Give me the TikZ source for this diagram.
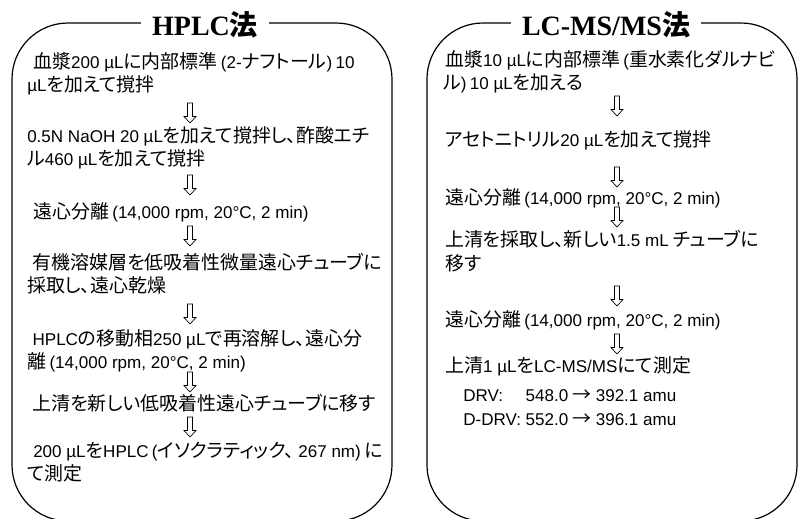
\documentclass[tikz,border=0pt]{standalone}
\usepackage{fontspec}
\setmainfont{Noto Sans CJK JP}[RawFeature=+palt]
\newfontfamily\ttlfont{Liberation Serif}
\newfontfamily\latfont{Liberation Sans}[Scale=0.9]
\newcommand\ltn[1]{{\latfont #1}}
\newcommand\opn{{\latfont\hspace{2.5pt}(}}
\newcommand\cls{{\latfont)\hspace{2.5pt}}}
\begin{document}
\begin{tikzpicture}[x=0.75pt,y=-0.75pt,
  panel/.style={draw=black,line width=0.9pt,rounded corners=42pt},
  ttl/.style={fill=white,inner xsep=8pt,inner ysep=2pt,font=\fontsize{21}{24}\selectfont\bfseries},
  para/.style={anchor=base west,inner sep=0pt,font=\fontsize{14.2}{17.6}\selectfont},
  harrow/.pic={\draw[line width=0.5pt,line join=miter] (-2.5,-10) -- (2.5,-10) -- (2.5,3.5) -- (6,3.5) -- (0,10) -- (-6,3.5) -- (-2.5,3.5) -- cycle;}]
\useasboundingbox (0,0) rectangle (798,518);
\clip (0,0) rectangle (798,518);
% panels
\draw[panel] (12,23) rectangle (392,521);
\draw[panel] (427,23) rectangle (797,521);
% titles
\node[ttl] (t1) at (205,25) {{\ttlfont HPLC}法};
\node[ttl] (t2) at (606,25) {{\ttlfont LC-MS/MS}法};
% left column
\node[para] (l1a) at (27,68) {\hspace*{4.5pt}血漿\ltn{200 µL}に内部標準\opn\ltn{2-}ナフトール\cls\ltn{10}};
\node[para] (l1b) at (27,91.5) {\ltn{µL}を加えて撹拌};
\pic at (190,113) {harrow};
\node[para] (l2a) at (27,142) {\ltn{0.5N NaOH 20 µL}を加えて撹拌し、酢酸エチ};
\node[para] (l2b) at (27,165.5) {ル\ltn{460 µL}を加えて撹拌};
\pic at (190,185) {harrow};
\node[para] (l3) at (27,218) {\hspace*{4.5pt}遠心分離\opn\ltn{14,000 rpm, 20°C, 2 min}\cls};
\pic at (190,236) {harrow};
\node[para] (l4a) at (27,269) {\hspace*{4pt}有機溶媒層を低吸着性微量遠心チューブに};
\node[para] (l4b) at (27,292.5) {採取し、遠心乾燥};
\pic at (190,314) {harrow};
\node[para] (l5a) at (27,345) {\hspace*{4pt}\ltn{HPLC}の移動相\ltn{250 µL}で再溶解し、遠心分};
\node[para] (l5b) at (27,368.5) {離\opn\ltn{14,000 rpm, 20°C, 2 min}\cls};
\pic at (190,382) {harrow};
\node[para] (l6) at (27,410) {\hspace*{4pt}上清を新しい低吸着性遠心チューブに移す};
\pic at (190,427) {harrow};
\node[para] (l7a) at (27,457) {\hspace*{4.5pt}\ltn{200 µL}を\ltn{HPLC}\opn イソクラティック、\hspace{3.5pt}\ltn{267 nm}\cls に};
\node[para] (l7b) at (27,480.5) {て測定};
% right column
\node[para] (r1a) at (443,66) {\hspace*{1.5pt}血漿\ltn{10 µL}に内部標準\opn 重水素化ダルナビ};
\node[para] (r1b) at (443,89.5) {ル\cls\ltn{10 µL}を加える};
\pic at (617,106) {harrow};
\node[para] (r2) at (445,146) {アセトニトリル\ltn{20 µL}を加えて撹拌};
\pic at (617,177) {harrow};
\node[para] (r3) at (445,204) {遠心分離\opn\ltn{14,000 rpm, 20°C, 2 min}\cls};
\pic at (617,217) {harrow};
\node[para] (r4a) at (445,246) {上清を採取し、新しい\ltn{1.5 mL} チューブに};
\node[para] (r4b) at (445,270) {移す};
\pic at (617,296) {harrow};
\node[para] (r5) at (445,326) {遠心分離\opn\ltn{14,000 rpm, 20°C, 2 min}\cls};
\pic at (617,344) {harrow};
\node[para] (r6) at (445,372) {上清\ltn{1 µL}を\ltn{LC-MS/MS}にて測定};
\node[para] (r7a) at (463,401) {\ltn{\rlap{DRV:}\phantom{D-DRV:} 548.0} → \ltn{392.1 amu}};
\node[para] (r7b) at (463,425.5) {\ltn{D-DRV: 552.0} → \ltn{396.1 amu}};
\end{tikzpicture}
\end{document}
